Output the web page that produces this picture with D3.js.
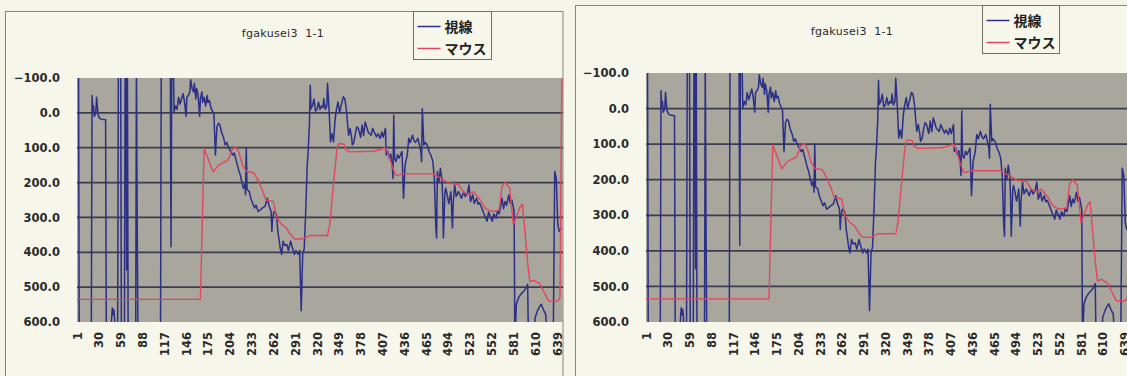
<!DOCTYPE html>
<html>
<head>
<meta charset="utf-8">
<script src="https://cdn.jsdelivr.net/npm/d3@7"></script>
<style>
  html, body { margin: 0; padding: 0; background: #f6f5e9; }
  svg { display: block; }
</style>
</head>
<body>
<svg id="chart" width="1127" height="376"></svg>
<script>
// ---- chart text ----
const chartTitle = "fgakusei3  1-1";
const seriesNames = ["視線", "マウス"];

// ---- axis ticks ----
const xTicks = [1, 30, 59, 88, 117, 146, 175, 204, 233, 262, 291, 320, 349, 378, 407, 436, 465, 494, 523, 552, 581, 610, 639];
const yTicks = [-100, 0, 100, 200, 300, 400, 500, 600];

// ---- gaze samples (視線): [sample no., value]; off-scale values run past the plot edge ----
const gaze = [
  [1,-150],[3,-150],[4,650],[20,650],[21,-50],[22,-5],[23,-20],[24,10],[26,0],[27,-45],[28,-20],[29,5],
  [31,15],[33,18],[39,20],[40,650],[46,650],[47,590],[48,560],[49,580],[50,565],[51,590],[52,650],
  [55,650],[56,-150],[59,-150],[60,650],[64,650],[65,-150],[66,-150],[67,450],[68,-150],[69,650],
  [79,650],[80,-150],[81,300],[82,650],[112,650],[113,-150],[125,-150],[126,384],[127,-150],[129,-150],
  [130,-3],[132,-20],[134,-10],[136,-45],[138,-25],[140,-40],[142,-55],[144,-30],[146,10],[147,-45],
  [149,-50],[151,-60],[152,-95],[154,-70],[156,-60],[157,-85],[159,-40],[160,-70],[162,-50],[164,10],
  [165,-40],[167,-60],[168,-30],[170,-45],[172,-20],[174,-50],[175,-30],[177,-35],[179,-15],[181,-5],
  [183,5],[185,121],[187,40],[189,30],[191,35],[193,55],[196,73],[198,92],[200,85],[202,97],[205,110],
  [208,121],[210,115],[213,140],[216,165],[218,178],[220,197],[222,216],[224,205],[225,235],[226,100],
  [227,220],[230,226],[232,245],[235,262],[237,273],[239,265],[242,283],[245,278],[248,272],[251,268],
  [254,245],[256,265],[259,283],[260,340],[261,300],[263,283],[266,290],[268,340],[270,370],[271,387],
  [273,406],[275,368],[277,380],[280,378],[282,395],[285,368],[287,385],[290,406],[292,395],[295,406],
  [297,395],[299,568],[301,406],[303,390],[305,283],[307,150],[308,121],[310,30],[311,-79],[312,-12],
  [314,-20],[316,-40],[318,-5],[320,-10],[322,-31],[324,-10],[326,-20],[328,-15],[329,-41],[331,-10],
  [333,-20],[334,-85],[336,-10],[338,83],[340,60],[342,83],[344,20],[346,-12],[348,-31],[350,0],
  [352,-20],[355,-46],[357,-40],[359,-10],[361,40],[362,64],[364,45],[366,70],[367,92],[369,85],
  [371,60],[373,40],[375,45],[378,70],[380,35],[382,65],[384,26],[386,40],[388,55],[390,60],[392,64],
  [394,45],[396,55],[399,69],[401,60],[404,73],[406,55],[408,70],[411,45],[412,121],[414,110],[416,130],
  [418,118],[420,150],[421,188],[422,7],[423,130],[425,140],[427,120],[429,130],[431,120],[433,111],
  [435,245],[437,150],[440,121],[442,73],[444,85],[447,64],[449,80],[451,85],[454,73],[456,90],
  [458,110],[459,140],[460,-12],[462,92],[464,85],[467,95],[469,111],[472,125],[474,140],[476,188],
  [478,330],[479,359],[480,168],[482,200],[484,159],[486,190],[487,240],[488,359],[490,230],[491,216],
  [493,235],[495,260],[497,240],[498,226],[500,330],[501,260],[503,207],[505,240],[508,226],[510,235],
  [512,245],[515,226],[517,240],[520,230],[522,207],[524,255],[527,235],[529,260],[532,245],[534,262],
  [536,258],[539,273],[542,290],[544,300],[546,311],[548,285],[550,295],[553,311],[555,290],[558,302],
  [560,280],[562,290],[564,270],[566,245],[568,275],[570,254],[572,265],[575,235],[577,260],[579,250],
  [582,283],[583,650],[585,549],[588,530],[591,520],[595,511],[598,502],[600,492],[601,650],[608,650],
  [610,587],[613,568],[616,555],[618,549],[621,565],[624,578],[626,650],[634,650],[636,168],[638,188],
  [640,321],[642,340],[645,330]
];

// ---- mouse samples (マウス): [sample no., value] ----
const mouse = [
  [1,535],[165,535],[170,102],[175,130],[182,170],[189,150],[196,142],[202,135],[207,106],[212,98],
  [216,112],[221,150],[226,168],[236,172],[242,195],[248,225],[252,250],[262,254],[266,300],[272,318],
  [279,330],[285,350],[290,362],[300,362],[305,358],[310,352],[334,352],[337,320],[340,250],[343,180],
  [347,95],[350,88],[356,90],[358,105],[363,112],[395,110],[405,105],[411,100],[415,120],[421,160],
  [425,180],[435,175],[474,175],[480,182],[488,192],[496,202],[508,205],[515,228],[522,235],[528,226],
  [537,250],[544,275],[552,283],[562,280],[566,210],[570,200],[576,215],[581,320],[586,292],[590,270],
  [593,262],[596,330],[600,430],[603,485],[608,480],[616,490],[622,515],[628,540],[640,540],[643,530],
  [645,0],[646,-150]
];

const colors = { gaze: "#2b2f86", mouse: "#e2465e" };

// Two copies of the same chart, side by side
const panels = [
  { box: { x: 5.5, y: 11.5, w: 557.5, h: 420 }, plot: { x: 77, y: 78, x639: 557, y600: 322 },
    title: { x: 283, y: 37 }, legend: { x: 413.5, y: 11.5, w: 78, h: 48 } },
  { box: { x: 575.5, y: 5.5, w: 600, h: 420 }, plot: { x: 646, y: 73, x639: 1124.5, y600: 322 },
    title: { x: 852, y: 35 }, legend: { x: 982.5, y: 5.5, w: 77, h: 48 } }
];

const svg = d3.select("#chart");
const defs = svg.append("defs");

panels.forEach((p, k) => {
  const g = svg.append("g");
  const clipId = "clip" + k;
  const plotRight = p.box.x + p.box.w;

  defs.append("clipPath").attr("id", clipId)
    .append("rect")
    .attr("x", p.plot.x).attr("y", p.plot.y)
    .attr("width", plotRight - p.plot.x).attr("height", p.plot.y600 - p.plot.y);

  const x = d3.scaleLinear().domain([1, 639]).range([p.plot.x, p.plot.x639]);
  const y = d3.scaleLinear().domain([-100, 600]).range([p.plot.y, p.plot.y600]);

  // chart frame
  g.append("rect")
    .attr("x", p.box.x).attr("y", p.box.y).attr("width", p.box.w).attr("height", p.box.h)
    .attr("fill", "#f7f6eb").attr("stroke", "#85857c").attr("stroke-width", 1);

  // plot area
  g.append("rect")
    .attr("x", p.plot.x).attr("y", p.plot.y)
    .attr("width", plotRight - p.plot.x).attr("height", p.plot.y600 - p.plot.y)
    .attr("fill", "#a8a69d");

  // horizontal gridlines
  const inner = g.append("g").attr("clip-path", `url(#${clipId})`);
  inner.selectAll("line.grid")
    .data(yTicks.filter(t => t > -100 && t < 600))
    .join("line")
    .attr("class", "grid")
    .attr("x1", p.plot.x).attr("x2", plotRight)
    .attr("y1", d => y(d)).attr("y2", d => y(d))
    .attr("stroke", "#3b3d4e").attr("stroke-width", 1.7);

  const line = d3.line().x(d => x(d[0])).y(d => y(d[1]));

  inner.append("path").datum(gaze)
    .attr("d", line).attr("fill", "none")
    .attr("stroke", colors.gaze).attr("stroke-width", 1.5).attr("stroke-linejoin", "round");

  inner.append("path").datum(mouse)
    .attr("d", line).attr("fill", "none")
    .attr("stroke", colors.mouse).attr("stroke-width", 1.4).attr("stroke-linejoin", "round");

  // y axis labels
  const yAxis = d3.axisLeft(y).tickValues(yTicks).tickFormat(d3.format(".1f")).tickSize(0).tickPadding(17);
  const ya = g.append("g").attr("transform", `translate(${p.plot.x},0)`).call(yAxis);
  ya.select(".domain").remove();
  ya.selectAll("text")
    .attr("font-family", "DejaVu Sans, sans-serif").attr("font-size", 11.5)
    .attr("font-weight", "bold").attr("fill", "#2a2a2a");

  // x axis labels, rotated
  const xAxis = d3.axisBottom(x).tickValues(xTicks).tickFormat(d3.format("d")).tickSize(0);
  const xa = g.append("g").attr("transform", `translate(0,${p.plot.y600})`).call(xAxis);
  xa.select(".domain").remove();
  xa.selectAll("text")
    .attr("font-family", "DejaVu Sans, sans-serif").attr("font-size", 11.5)
    .attr("font-weight", "bold").attr("fill", "#2a2a2a")
    .attr("text-anchor", "end")
    .attr("transform", "rotate(-90)")
    .attr("x", -10).attr("y", 0).attr("dy", "0.35em");

  // title
  g.append("text")
    .attr("x", p.title.x).attr("y", p.title.y)
    .attr("text-anchor", "middle")
    .attr("font-family", "DejaVu Sans, sans-serif").attr("font-size", 11)
    .attr("letter-spacing", 0.3).attr("fill", "#2a2a2a")
    .style("white-space", "pre")
    .text(chartTitle);

  // legend
  const lg = g.append("g").attr("transform", `translate(${p.legend.x},${p.legend.y})`);
  lg.append("rect").attr("width", p.legend.w).attr("height", p.legend.h)
    .attr("fill", "#f7f6eb").attr("stroke", "#6f6f68").attr("stroke-width", 1);
  const entries = [
    { name: seriesNames[0], color: colors.gaze, yy: 15 },
    { name: seriesNames[1], color: colors.mouse, yy: 37 }
  ];
  entries.forEach(e => {
    lg.append("line").attr("x1", 4).attr("x2", 27).attr("y1", e.yy).attr("y2", e.yy)
      .attr("stroke", e.color).attr("stroke-width", 1.5);
    lg.append("text").attr("x", 31).attr("y", e.yy + 5)
      .attr("font-family", "Noto Sans CJK JP, sans-serif").attr("font-size", 14)
      .attr("font-weight", "bold").attr("fill", "#222")
      .text(e.name);
  });
});
</script>
</body>
</html>
